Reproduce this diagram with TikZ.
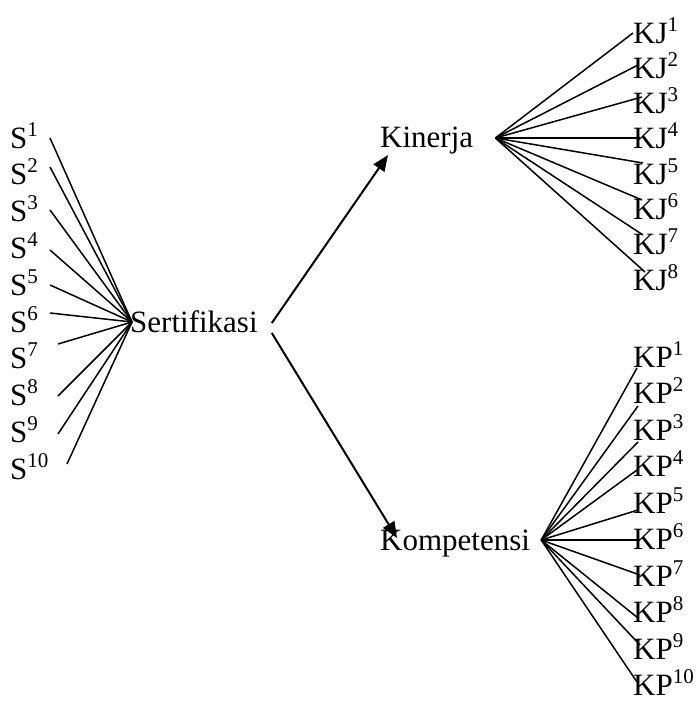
\documentclass[tikz,border=0pt]{standalone}
\usepackage{fontspec}
\setmainfont{Liberation Serif}
\usetikzlibrary{calc,arrows.meta}
\newcommand{\supx}[1]{\raisebox{12pt}{\fontsize{21}{21}\selectfont #1}}
\begin{document}
\begin{tikzpicture}[x=1pt,y=-1pt,
  lab/.style={anchor=base west,inner sep=0pt,font=\fontsize{31}{31}\selectfont},
  fan/.style={line width=1.5pt},
  arr/.style={line width=2pt,-{Triangle[length=16pt,width=13pt]}}]
\useasboundingbox (0,0) rectangle (697,702);
% central nodes
\node[lab] (sert) at (130,332) {Sertifikasi};
\node[lab] (kin) at (380,147) {Kinerja};
\node[lab] (komp) at (380,550) {Kompetensi};
\coordinate (hubS) at ($(sert.base west)+(2,-10)$);
\coordinate (hubK) at ($(kin.base east)+(22,-9)$);
\coordinate (hubP) at ($(komp.base east)+(11,-10)$);
% S labels
\foreach \i in {1,...,10} \node[lab] (s\i) at (10,{148+(\i-1)*36.8}) {S\supx{\i}};
\foreach \i/\x/\y in {1/50/138,2/50/167,3/50/210,4/50/250,5/50/285,6/50/313,7/58/344,8/58/396,9/58/434,10/67/464}{
  \coordinate (ss\i) at (\x,\y);
  \draw[fan] (ss\i) -- (hubS);
}
% KJ labels
\foreach \i in {1,...,8} \node[lab] (kj\i) at (633,{43+(\i-1)*35.3}) {KJ\supx{\i}};
\foreach \i/\x/\y in {1/633/33,2/638/65,3/642/97,4/640/138,5/643/163,6/642/200,7/643/235,8/645/272}{
  \coordinate (kje\i) at (\x,\y);
  \draw[fan] (hubK) -- (kje\i);
}
% KP labels
\foreach \i in {1,...,10} \node[lab] (kp\i) at (633,{367+(\i-1)*36.5}) {KP\supx{\i}};
\foreach \i/\x/\y in {1/637/368,2/638/406,3/638/442,4/637/470,5/638/510,6/640/540,7/640/575,8/638/618,9/640/645,10/637/682}{
  \coordinate (kpe\i) at (\x,\y);
  \draw[fan] (hubP) -- (kpe\i);
}
% arrows
\draw[arr] ($(sert.base east)+(14,-9)$) -- ($(kin.base west)+(8,8)$);
\draw[arr] ($(sert.base east)+(14,1)$) -- ($(komp.base west)+(17,-12)$);
\end{tikzpicture}
\end{document}
